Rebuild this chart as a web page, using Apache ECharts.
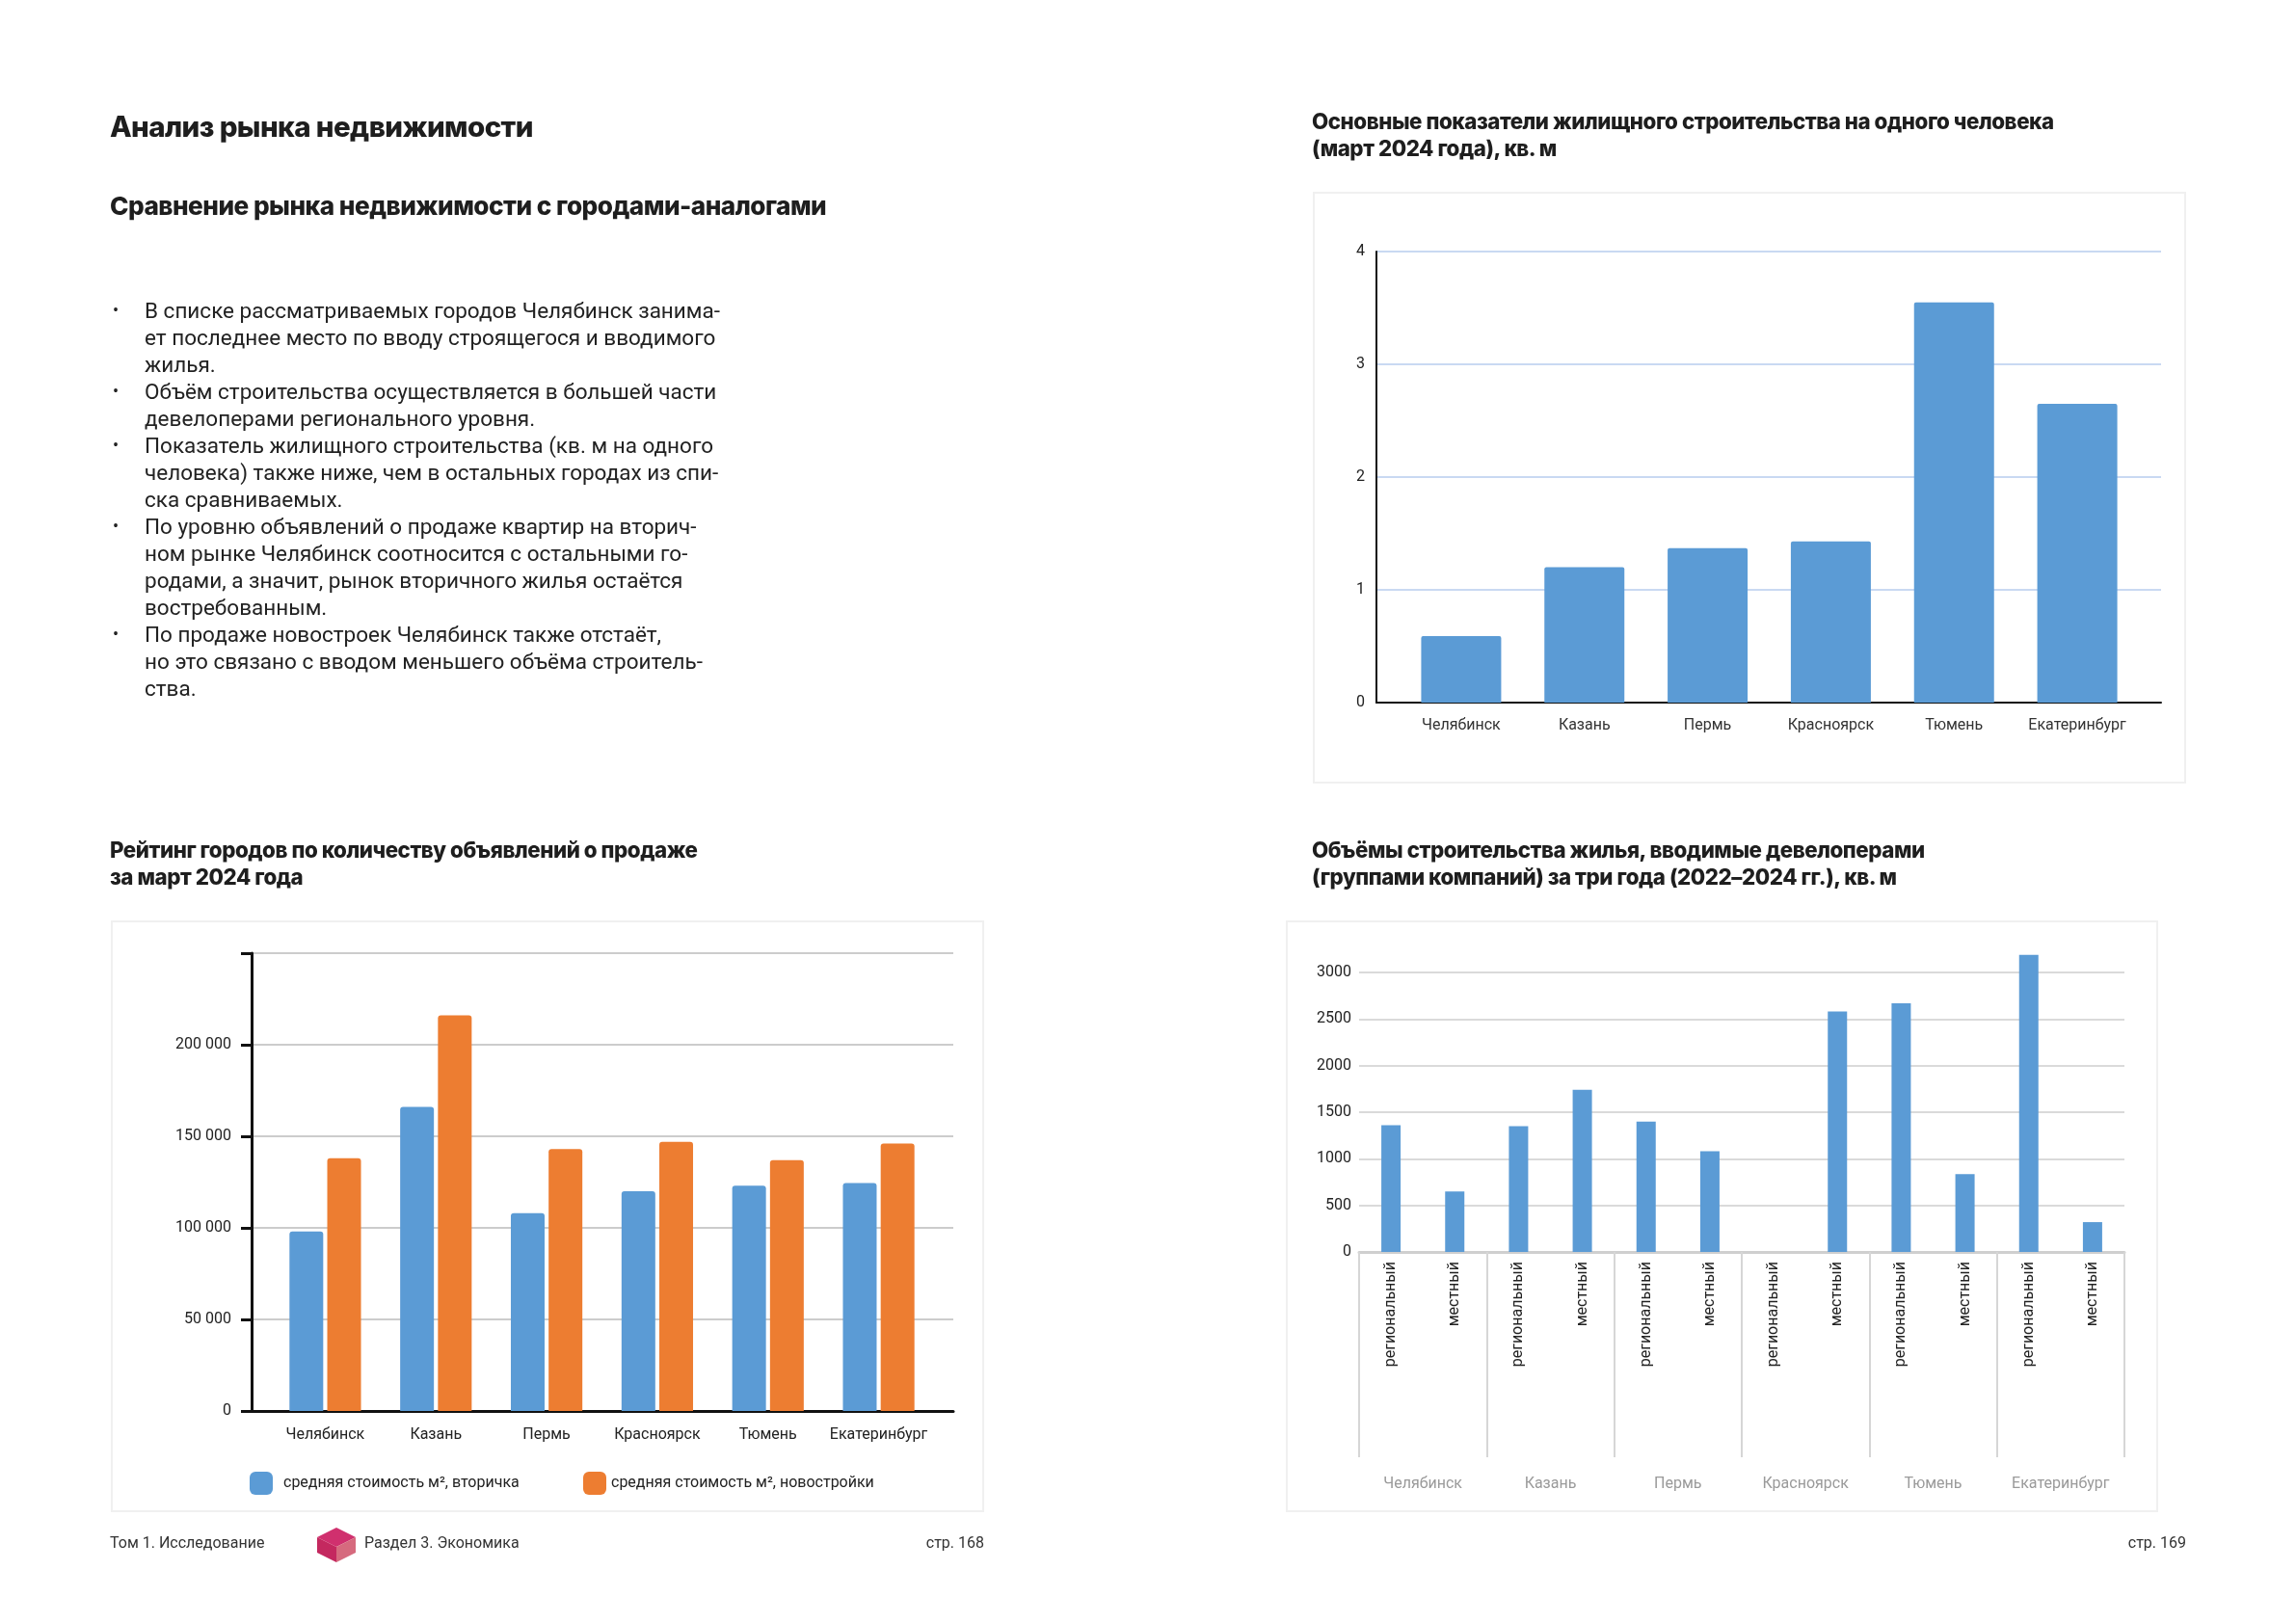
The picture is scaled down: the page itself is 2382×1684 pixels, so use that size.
<!DOCTYPE html>
<html><head><meta charset="utf-8">
<script src="https://cdn.jsdelivr.net/npm/echarts@6/dist/echarts.min.js"></script>
<style>
html,body{margin:0;padding:0;background:#fff;}
#page{position:relative;width:2382px;height:1684px;overflow:hidden;font-family:Roboto,"Noto Sans",sans-serif;color:#222;}
.box{position:absolute;border:2px solid #f0f0f0;box-sizing:border-box;}
#chart{position:absolute;left:0;top:0;width:2382px;height:1684px;z-index:1;}
.t{position:absolute;z-index:2;white-space:nowrap;}
.hd{font-family:Inter,Roboto,sans-serif;font-weight:800;color:#1e1e1e;letter-spacing:-0.02em;}
.h1{font-size:29.5px;line-height:34px;}
.h2{font-size:26.2px;line-height:32px;}
.ct{font-size:22.3px;line-height:27.5px;}
.body{font-size:22.5px;line-height:28px;}
.foot{font-size:16px;line-height:20px;color:#333;}
</style></head>
<body><div id="page">
<div class="box" style="left:1362px;top:199px;width:906px;height:614px"></div>
<div class="box" style="left:115px;top:955px;width:906px;height:614px"></div>
<div class="box" style="left:1334px;top:955px;width:905px;height:614px"></div>
<div id="chart"></div>

<div class="t hd h1" style="left:114px;top:114px">Анализ рынка недвижимости</div>
<div class="t hd h2" style="left:114px;top:198px">Сравнение рынка недвижимости с городами-аналогами</div>
<div class="t body" id="bullets" style="left:117px;top:308px"></div>

<div class="t hd ct" style="left:1361px;top:112px">Основные показатели жилищного строительства на одного человека<br>(март 2024 года), кв. м</div>
<div class="t hd ct" style="left:114px;top:868px">Рейтинг городов по количеству объявлений о продаже<br>за март 2024 года</div>
<div class="t hd ct" style="left:1361px;top:868px">Объёмы строительства жилья, вводимые девелоперами<br>(группами компаний) за три года (2022–2024 гг.), кв. м</div>

<div class="t foot" style="left:114px;top:1591px">Том 1. Исследование</div>
<svg class="t" style="left:328px;top:1584px" width="42" height="38" viewBox="0 0 42 38">
  <polygon points="21,1 41,11 21,21 1,11" fill="#d0306e"/>
  <polygon points="1,11 21,21 21,37 1,27" fill="#c4285f"/>
  <polygon points="41,11 21,21 21,37 41,27" fill="#d66a7e"/>
</svg>
<div class="t foot" style="left:378px;top:1591px">Раздел 3. Экономика</div>
<div class="t foot" style="right:1361px;top:1591px">стр. 168</div>
<div class="t foot" style="right:114px;top:1591px">стр. 169</div>
</div>
<script>
// ---- Text ----
const bulletLines = [
  ["В списке рассматриваемых городов Челябинск занима-", "ет последнее место по вводу строящегося и вводимого", "жилья."],
  ["Объём строительства осуществляется в большей части", "девелоперами регионального уровня."],
  ["Показатель жилищного строительства (кв. м на одного", "человека) также ниже, чем в остальных городах из спи-", "ска сравниваемых."],
  ["По уровню объявлений о продаже квартир на вторич-", "ном рынке Челябинск соотносится с остальными го-", "родами, а значит, рынок вторичного жилья остаётся", "востребованным."],
  ["По продаже новостроек Челябинск также отстаёт,", "но это связано с вводом меньшего объёма строитель-", "ства."]
];

// ---- Chart 1: per-capita housing construction ----
const perCapitaCities = ["Челябинск", "Казань", "Пермь", "Красноярск", "Тюмень", "Екатеринбург"];
const perCapitaValues = [0.59, 1.2, 1.37, 1.43, 3.55, 2.65];
const perCapitaTicks = [0, 1, 2, 3, 4];

// ---- Chart 2: listing prices ----
const listingCities = ["Челябинск", "Казань", "Пермь", "Красноярск", "Тюмень", "Екатеринбург"];
const secondaryPrice = [98000, 166000, 108000, 120000, 123000, 124500];
const newBuildPrice = [138000, 216000, 143000, 147000, 137000, 146000];
const listingSeriesNames = ["средняя стоимость м², вторичка", "средняя стоимость м², новостройки"];

// ---- Chart 3: developer volumes ----
const devCities = ["Челябинск", "Казань", "Пермь", "Красноярск", "Тюмень", "Екатеринбург"];
const devTypes = ["региональный", "местный"];
const devRegional = [1360, 1350, 1400, 0, 2670, 3190];
const devLocal = [650, 1740, 1080, 2580, 835, 320];

document.getElementById('bullets').innerHTML = bulletLines.map(function(b){
  return '<div style="position:relative;padding-left:33px">' +
    '<span style="position:absolute;left:0;top:0;font-size:18px">•</span>' + b.join('<br>') + '</div>';
}).join('');

const BLUE = '#5b9bd5', ORANGE = '#ed7d31';
const W = 2382, H = 1684;
function g(l, r, t, b){ return {left:l, right:W-r, top:t, bottom:H-b, containLabel:false}; }
function fmtThousands(v){ return String(v).replace(/\B(?=(\d{3})+(?!\d))/g, ' '); }

const devCats = [], devVals = [];
devCities.forEach(function(c, i){
  devCats.push(c + '|' + devTypes[0]); devVals.push(devRegional[i] || null);
  devCats.push(c + '|' + devTypes[1]); devVals.push(devLocal[i]);
});

const font = 'Roboto';
const chart = echarts.init(document.getElementById('chart'), null, {renderer:'canvas'});
chart.setOption({
  animation:false,
  textStyle:{fontFamily:font},
  grid:[
    g(1428, 2242, 261, 729),   // 0 chart1 frame
    g(1452, 2219, 261, 729),   // 1 chart1 bars
    g(261, 989, 989, 1464),    // 2 chart2 frame
    g(280, 969, 989, 1464),    // 3 chart2 bars
    g(1410, 2204, 1009, 1299)  // 4 chart3
  ],
  legend:[
    {left:254, top:1522, itemWidth:24, itemHeight:24,
     textStyle:{fontFamily:font, fontSize:16, color:'#222', padding:[0,0,0,6]}, data:[listingSeriesNames[0]], icon:'roundRect'},
    {left:600, top:1522, itemWidth:24, itemHeight:24,
     textStyle:{fontFamily:font, fontSize:16, color:'#222', padding:[0,0,0,0]}, data:[listingSeriesNames[1]], icon:'roundRect'}
  ],
  xAxis:[
    {gridIndex:0, type:'value', min:0, max:1, axisLine:{show:true, onZero:false, lineStyle:{color:'#111', width:2}},
     axisTick:{show:false}, axisLabel:{show:false}, splitLine:{show:false}},
    {gridIndex:1, type:'category', data:perCapitaCities, axisLine:{show:false}, axisTick:{show:false},
     axisLabel:{margin:16, fontSize:16, color:'#333', fontFamily:font, interval:0}},
    {gridIndex:2, type:'value', min:0, max:1, axisLine:{show:true, onZero:false, lineStyle:{color:'#111', width:3}},
     axisTick:{show:false}, axisLabel:{show:false}, splitLine:{show:false}},
    {gridIndex:3, type:'category', data:listingCities, axisLine:{show:false}, axisTick:{show:false},
     axisLabel:{margin:17, fontSize:16, color:'#222', fontFamily:font, interval:0}},
    {gridIndex:4, type:'category', data:devCats, position:'bottom',
     axisLine:{show:true, lineStyle:{color:'#cfcfcf', width:3}}, axisTick:{show:false},
     axisLabel:{rotate:90, margin:10, fontSize:16, color:'#222', fontFamily:font, interval:0,
       formatter:function(v){ return v.split('|')[1]; }}},
    {gridIndex:4, type:'category', data:devCities, position:'bottom',
     axisLine:{show:false}, axisTick:{show:true, length:213, lineStyle:{color:'#d6d6d6', width:2}},
     axisLabel:{margin:233, fontSize:16, color:'#9a9a9a', fontFamily:font, interval:0}}
  ],
  yAxis:[
    {gridIndex:0, type:'value', min:0, max:4, interval:1,
     axisLine:{show:true, lineStyle:{color:'#111', width:2}}, axisTick:{show:false},
     axisLabel:{margin:12, fontSize:16, color:'#222', fontFamily:font},
     splitLine:{lineStyle:{color:'#c9d9f2', width:2}}},
    {gridIndex:1, type:'value', min:0, max:4, show:false, splitLine:{show:false}},
    {gridIndex:2, type:'value', min:0, max:250000, interval:50000,
     axisLine:{show:true, lineStyle:{color:'#111', width:3}},
     axisTick:{show:true, length:11, lineStyle:{color:'#111', width:3}},
     axisLabel:{margin:21, fontSize:16, color:'#222', fontFamily:font,
       formatter:function(v){ return v === 250000 ? '' : fmtThousands(v); }},
     splitLine:{lineStyle:{color:'#cccccc', width:2}}},
    {gridIndex:3, type:'value', min:0, max:250000, show:false, splitLine:{show:false}},
    {gridIndex:4, type:'value', min:0, max:3000, interval:500,
     axisLine:{show:false}, axisTick:{show:false},
     axisLabel:{margin:8, fontSize:16, color:'#222', fontFamily:font, formatter:function(v){ return String(v); }},
     splitLine:{lineStyle:{color:'#dadada', width:2}}}
  ],
  series:[
    {type:'bar', xAxisIndex:1, yAxisIndex:1, data:perCapitaValues, barWidth:83,
     itemStyle:{color:BLUE, borderRadius:[2,2,0,0]}},
    {type:'bar', name:listingSeriesNames[0], xAxisIndex:3, yAxisIndex:3, data:secondaryPrice, barWidth:35, barGap:'12%',
     itemStyle:{color:BLUE, borderRadius:[3,3,0,0]}},
    {type:'bar', name:listingSeriesNames[1], xAxisIndex:3, yAxisIndex:3, data:newBuildPrice, barWidth:35, barGap:'12%',
     itemStyle:{color:ORANGE, borderRadius:[3,3,0,0]}},
    {type:'bar', xAxisIndex:4, yAxisIndex:4, data:devVals, barWidth:20, clip:false, itemStyle:{color:BLUE}}
  ]
});
</script>
</body></html>
